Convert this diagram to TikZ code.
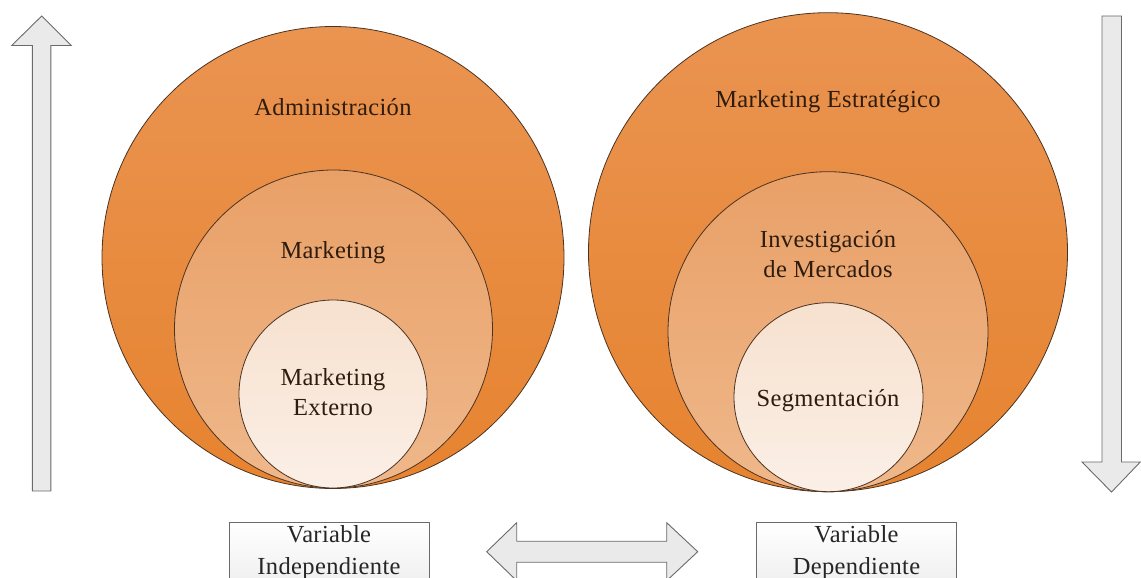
\documentclass[tikz,border=0pt]{standalone}
\usepackage{fontspec}
\setmainfont{Liberation Serif}[LetterSpace=1.5]

\definecolor{outerA}{HTML}{EA9451}
\definecolor{outerB}{HTML}{E6832F}
\definecolor{midA}{HTML}{E9A067}
\definecolor{midB}{HTML}{EFB88B}
\definecolor{innA}{HTML}{F7E1CF}
\definecolor{innB}{HTML}{FBEFE6}
\definecolor{rim}{HTML}{4B3322}
\definecolor{ink}{HTML}{2E1C0E}
\definecolor{arrowfill}{HTML}{EAEAEA}
\definecolor{arrowline}{HTML}{6A6A6A}

\tikzset{
  ring/.style={circle, draw=rim, line width=0.8pt, inner sep=0pt},
  outerring/.style={ring, top color=outerA, bottom color=outerB},
  midring/.style={ring, top color=midA, bottom color=midB},
  innring/.style={ring, top color=innA, bottom color=innB},
  lbl/.style={font=\fontsize{24.5}{30}\selectfont, text=ink, align=center, inner sep=0pt},
  boxlbl/.style={lbl, font=\fontsize{24.5}{32}\selectfont, text=black!85},
  blockarrow/.style={draw=arrowline, line width=0.9pt, fill=arrowfill, line join=miter},
  varbox/.style={draw=arrowline, line width=0.9pt, top color=white, bottom color=black!9,
                 minimum width=200pt, minimum height=90pt, inner sep=0pt}
}

\begin{document}
\begin{tikzpicture}[x=1pt, y=-1pt]
  \useasboundingbox (0,0) rectangle (1141,578);
  \clip (0,0) rectangle (1141,578);

  % left set of nested circles
  \node[outerring, minimum size=462pt] (adm) at (333,257.5) {};
  \node[midring,   minimum size=318pt] (mkt) at (333.5,329) {};
  \node[innring,   minimum size=188pt] (ext) at (333,394) {};
  \node[lbl, anchor=base] (admT) at (333,115) {Administración};
  \node[lbl, anchor=base] (mktT) at (333,258) {Marketing};
  \node[lbl] (extT) at (333,392) {Marketing\\Externo};

  % right set of nested circles
  \node[outerring, minimum size=479pt] (est) at (828,252.2) {};
  \node[midring,   minimum size=320pt] (inv) at (828,331.7) {};
  \node[innring,   minimum size=189pt] (seg) at (828.5,397.2) {};
  \node[lbl, anchor=base] (estT) at (828,107) {Marketing Estratégico};
  \node[lbl] (invT) at (828,254) {Investigación\\de Mercados};
  \node[lbl, anchor=base] (segT) at (828,406) {Segmentación};

  % vertical block arrows
  \draw[blockarrow] (41.7,16) -- (71.3,45.5) -- (50.9,45.5) -- (50.9,491)
        -- (32.3,491) -- (32.3,45.5) -- (11.7,45.5) -- cycle;
  \draw[blockarrow] (1111.5,492) -- (1140.3,462) -- (1121.5,462) -- (1121.5,16)
        -- (1102,16) -- (1102,462) -- (1082,462) -- cycle;

  % horizontal double arrow
  \draw[blockarrow] (486.7,551.7) -- (516.7,522.7) -- (516.7,541.2) -- (666.7,541.2)
        -- (666.7,522.7) -- (697.7,551.7) -- (666.7,580.7) -- (666.7,562.2)
        -- (516.7,562.2) -- (516.7,580.7) -- cycle;

  % variable boxes
  \node[varbox, anchor=north west] (indep) at (229,521.5) {};
  \node[varbox, anchor=north west] (dep) at (756,522) {};
  \node[boxlbl] (indepT) at (329,553) {Variable\\Independiente};
  \node[boxlbl] (depT) at (856.5,553) {Variable\\Dependiente};
\end{tikzpicture}
\end{document}
